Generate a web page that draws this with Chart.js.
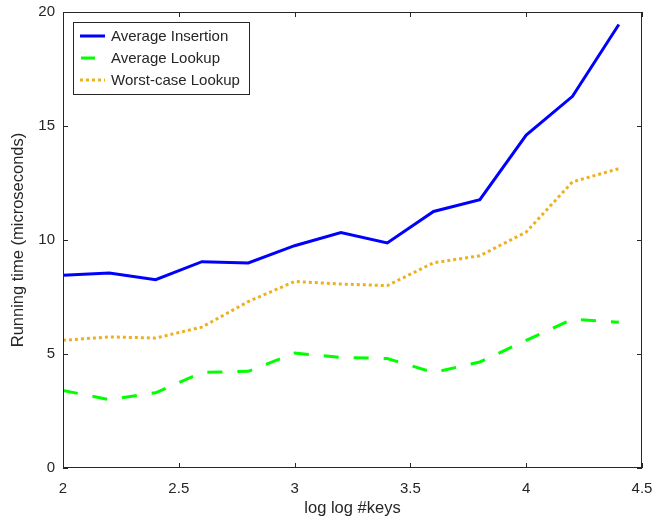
<!DOCTYPE html>
<html>
<head>
<meta charset="utf-8">
<script src="https://cdn.jsdelivr.net/npm/chart.js@4/dist/chart.umd.min.js"></script>
<style>
  body { margin: 0; background: #fff; }
  #wrap { width: 652px; height: 524px; }
</style>
</head>
<body>
<div id="wrap"><canvas id="runChart" width="652" height="524"></canvas></div>
<script>
// x positions (log log #keys)
var keysX = [2, 2.2, 2.4, 2.6, 2.8, 3, 3.2, 3.4, 3.6, 3.8, 4, 4.2, 4.4];

// running times, microseconds
var avgInsertion = [8.45, 8.55, 8.26, 9.05, 8.99, 9.75, 10.33, 9.87, 11.25, 11.77, 14.6, 16.3, 19.45];
var avgLookup = [3.4, 3.0, 3.3, 4.19, 4.24, 5.04, 4.85, 4.8, 4.19, 4.65, 5.6, 6.53, 6.39];
var worstLookup = [5.6, 5.75, 5.7, 6.18, 7.3, 8.18, 8.07, 8.0, 9.0, 9.31, 10.35, 12.55, 13.13];

var xTicks = [2, 2.5, 3, 3.5, 4, 4.5];
var yTicks = [0, 5, 10, 15, 20];

var seriesNames = ['Average Insertion', 'Average Lookup', 'Worst-case Lookup'];
var seriesColors = ['#0000ff', '#00ff00', '#edb120'];
var seriesDash = [[], [15, 15], [3, 3]];

var textColor = '#262626';
var fontFamily = '"Liberation Sans", Arial, Helvetica, sans-serif';

function toPoints(ys) {
  return keysX.map(function(x, i) { return { x: x, y: ys[i] }; });
}

//draws the axes box with inward ticks plus the boxed legend
var boxPlugin = {
  id: 'boxPlugin',
  afterDraw: function(chart) {
    var ctx = chart.ctx;
    var area = chart.chartArea;
    var xs = chart.scales.x;
    var ys = chart.scales.y;
    var tickLen = 5;

    ctx.save();
    ctx.strokeStyle = textColor;
    ctx.lineWidth = 1;
    ctx.strokeRect(area.left + 0.5, area.top + 0.5, area.right - area.left - 1, area.bottom - area.top - 1);

    ctx.beginPath();
    xTicks.forEach(function(t) {
      var px = Math.round(xs.getPixelForValue(t)) + 0.5;
      ctx.moveTo(px, area.bottom);
      ctx.lineTo(px, area.bottom - tickLen);
      ctx.moveTo(px, area.top);
      ctx.lineTo(px, area.top + tickLen);
    });
    yTicks.forEach(function(t) {
      var py = Math.round(ys.getPixelForValue(t)) + 0.5;
      ctx.moveTo(area.left, py);
      ctx.lineTo(area.left + tickLen, py);
      ctx.moveTo(area.right, py);
      ctx.lineTo(area.right - tickLen, py);
    });
    ctx.stroke();

    //legend
    var lx = area.left + 10;
    var ly = area.top + 10;
    var lw = 176;
    var lh = 72;
    ctx.fillStyle = '#fff';
    ctx.fillRect(lx, ly, lw, lh);
    ctx.strokeRect(lx + 0.5, ly + 0.5, lw, lh);

    ctx.font = '15px ' + fontFamily;
    ctx.textBaseline = 'middle';
    seriesNames.forEach(function(name, i) {
      var rowY = ly + 14 + i * 22;
      ctx.beginPath();
      ctx.strokeStyle = seriesColors[i];
      ctx.lineWidth = 3;
      ctx.setLineDash(seriesDash[i]);
      if (i === 1) {
        ctx.moveTo(lx + 8, rowY);
        ctx.lineTo(lx + 22, rowY);
      } else {
        ctx.moveTo(lx + 7, rowY);
        ctx.lineTo(lx + 32, rowY);
      }
      ctx.stroke();
      ctx.setLineDash([]);
      ctx.fillStyle = textColor;
      ctx.fillText(name, lx + 38, rowY + 1);
    });
    ctx.restore();
  }
};

new Chart(document.getElementById('runChart'), {
  type: 'line',
  data: {
    datasets: [avgInsertion, avgLookup, worstLookup].map(function(vals, i) {
      return {
        label: seriesNames[i],
        data: toPoints(vals),
        borderColor: seriesColors[i],
        backgroundColor: seriesColors[i],
        borderWidth: 3,
        borderDash: seriesDash[i],
        pointRadius: 0,
        tension: 0,
        fill: false
      };
    })
  },
  options: {
    responsive: false,
    animation: false,
    layout: { padding: { top: 12, right: 10, left: 0, bottom: 0 } },
    plugins: {
      legend: { display: false },
      tooltip: { enabled: false }
    },
    scales: {
      x: {
        type: 'linear',
        min: 2,
        max: 4.5,
        afterBuildTicks: function(axis) {
          axis.ticks = xTicks.map(function(v) { return { value: v }; });
        },
        afterFit: function(axis) {
          axis.height = 56;
          axis.paddingLeft = 0;
          axis.paddingRight = 0;
        },
        grid: { display: false, drawTicks: false },
        border: { display: false },
        ticks: {
          color: textColor,
          font: { size: 15, family: fontFamily },
          padding: 12,
          maxRotation: 0,
          callback: function(v) { return String(v); }
        },
        title: {
          display: true,
          text: 'log log #keys',
          color: textColor,
          font: { size: 16.5, family: fontFamily },
          padding: { top: 0, bottom: 6 }
        }
      },
      y: {
        min: 0,
        max: 20,
        afterBuildTicks: function(axis) {
          axis.ticks = yTicks.map(function(v) { return { value: v }; });
        },
        afterFit: function(axis) {
          axis.width = 63;
          axis.paddingTop = 0;
          axis.paddingBottom = 0;
        },
        grid: { display: false, drawTicks: false },
        border: { display: false },
        ticks: {
          color: textColor,
          font: { size: 15, family: fontFamily },
          padding: 8,
          callback: function(v) { return String(v); }
        },
        title: {
          display: true,
          text: 'Running time (microseconds)',
          color: textColor,
          font: { size: 16.5, family: fontFamily },
          padding: { top: 9, bottom: 0 }
        }
      }
    }
  },
  plugins: [boxPlugin]
});
</script>
</body>
</html>
